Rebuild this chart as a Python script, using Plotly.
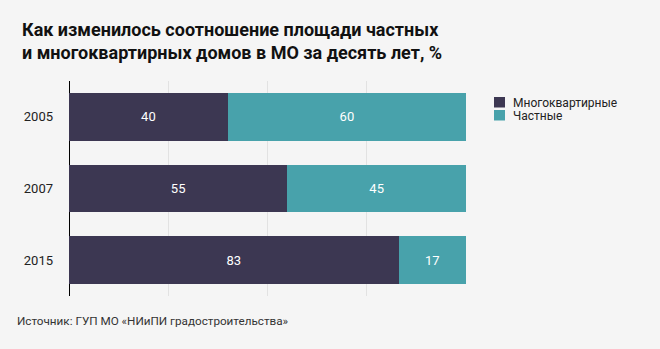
import plotly.graph_objects as go

years = ["2005", "2007", "2015"]
multi = [40, 55, 83]
private = [60, 45, 17]
series_names = ["Многоквартирные", "Частные"]
series_colors = ["#3c3752", "#48a2ab"]
title_text = "Как изменилось соотношение площади частных<br>и многоквартирных домов в МО за десять лет, %"
source_text = "Источник: ГУП МО «НИиПИ градостроительства»"

W, H = 660, 349
L, R, T, B = 69, 194, 81, 53
pw = W - L - R
ph = H - T - B

def px(x):
    return (x - L) / pw

def py(y):
    return (H - B - y) / ph

fig = go.Figure()
for vals, name, col in [(multi, series_names[0], series_colors[0]),
                        (private, series_names[1], series_colors[1])]:
    fig.add_trace(go.Bar(
        y=years, x=vals, name=name, orientation="h",
        marker=dict(color=col, line=dict(width=0)),
        text=[str(v) for v in vals], textposition="inside", insidetextanchor="middle",
        textfont=dict(color="white", size=13, family="Roboto"),
        showlegend=False,
    ))

shapes = []
annotations = []
# manual legend (compact spacing like the reference)
for i, (name, col) in enumerate(zip(series_names, series_colors)):
    top = 97 + i * 13
    shapes.append(dict(type="rect", xref="paper", yref="paper",
                       x0=px(494), x1=px(505), y0=py(top), y1=py(top + 10.5),
                       fillcolor=col, line=dict(width=0)))
    annotations.append(dict(text=name, x=px(511), y=py(top + 5.5), xref="paper", yref="paper",
                            showarrow=False, xanchor="left", yanchor="middle", align="left",
                            font=dict(size=12, color="#222222", family="Roboto")))

annotations.append(dict(text="<b>" + title_text.replace("<br>", "</b><br><b>") + "</b>",
                        x=px(20), y=py(17), xref="paper", yref="paper",
                        showarrow=False, xanchor="left", yanchor="top", align="left",
                        font=dict(size=18, color="#111111", family="Roboto")))
annotations.append(dict(text=source_text, x=px(15), y=py(321), xref="paper", yref="paper",
                        showarrow=False, xanchor="left", yanchor="middle", align="left",
                        font=dict(size=11.7, color="#333333", family="Roboto")))

fig.update_layout(
    width=W, height=H,
    margin=dict(l=L, r=R, t=T, b=B, pad=0),
    barmode="stack", bargap=0.333,
    paper_bgcolor="#f5f5f5", plot_bgcolor="#f5f5f5",
    font=dict(family="Roboto", size=13, color="#222222"),
    showlegend=False,
    xaxis=dict(range=[0, 100], tickvals=[0, 25, 50, 75, 100], showticklabels=False,
               showgrid=True, gridcolor="#e2e2e2", gridwidth=1,
               zeroline=True, zerolinecolor="#000000", zerolinewidth=1,
               showline=False, fixedrange=True),
    yaxis=dict(autorange="reversed", showgrid=False, zeroline=False, showline=False,
               ticks="", ticklabelstandoff=15, tickfont=dict(size=13, color="#222222"),
               fixedrange=True),
    shapes=shapes,
    annotations=annotations,
)

fig.write_html("out.html", config={"displayModeBar": False})
